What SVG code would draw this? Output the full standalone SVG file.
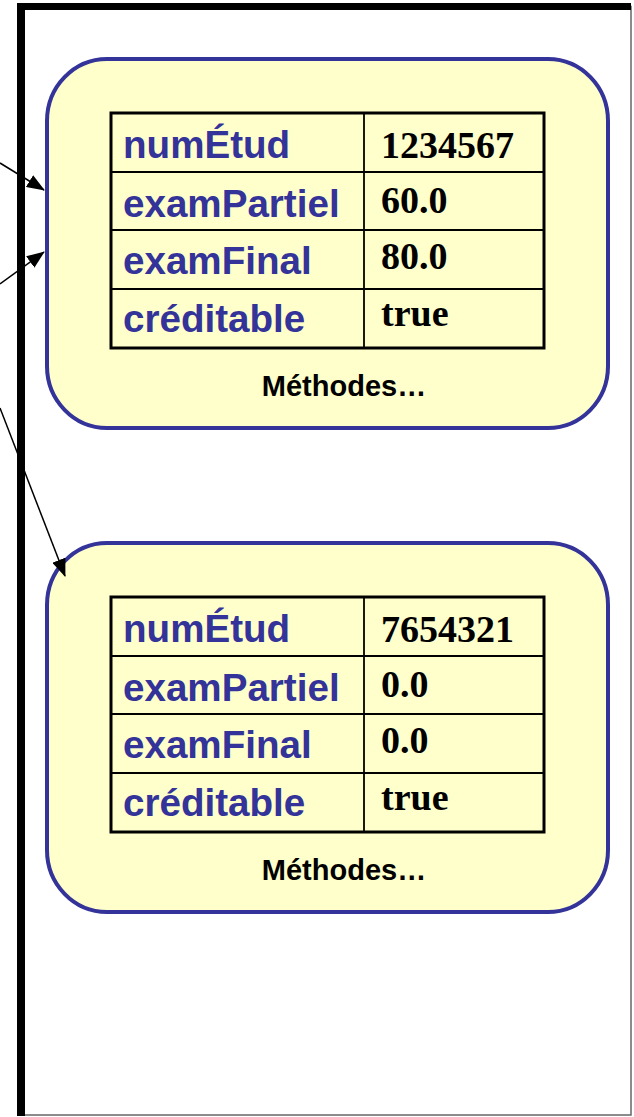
<svg xmlns="http://www.w3.org/2000/svg" width="634" height="1117" viewBox="0 0 634 1117">
  <defs>
    <marker id="arrow" markerWidth="18" markerHeight="14" refX="17" refY="7" orient="auto" markerUnits="userSpaceOnUse">
      <path d="M0,0 L18,7 L0,14 Z" fill="#000"/>
    </marker>
    <style>
      .obj { fill: #FFFFCC; stroke: #333399; stroke-width: 4; }
      .tbl { fill: none; stroke: #000; stroke-width: 3; }
      .grid { stroke: #000; stroke-width: 1.8; }
      .lbl { font-family: "Liberation Sans", Arial, sans-serif; font-weight: bold; font-size: 38.6px; fill: #333399; }
      .val { font-family: "Liberation Serif", "Times New Roman", serif; font-weight: bold; font-size: 38px; fill: #000; }
      .meth { font-family: "Liberation Sans", Arial, sans-serif; font-weight: bold; font-size: 29px; fill: #000; text-anchor: middle; }
      .conn { stroke: #000; stroke-width: 1.5; fill: none; marker-end: url(#arrow); }
    </style>
  </defs>

  <rect width="634" height="1117" fill="#fff"/>

  <!-- heap frame -->
  <g id="heap">
    <rect x="21" y="6.5" width="610" height="1108.5" fill="#fff" stroke="#666" stroke-width="1.5"/>
    <line x1="21" y1="3" x2="21" y2="1116" stroke="#000" stroke-width="8"/>
    <line x1="17" y1="6.5" x2="631" y2="6.5" stroke="#000" stroke-width="7"/>
  </g>

  <!-- first Etudiant object -->
  <g id="etudiant1">
    <rect class="obj" x="47" y="59" width="561" height="369" rx="60" ry="62"/>
    <rect class="tbl" x="111" y="113" width="433" height="235"/>
    <line class="grid" x1="364" y1="113" x2="364" y2="348"/>
    <line class="grid" x1="111" y1="172" x2="544" y2="172"/>
    <line class="grid" x1="111" y1="230" x2="544" y2="230"/>
    <line class="grid" x1="111" y1="289" x2="544" y2="289"/>
    <text class="lbl" x="123" y="158">numÉtud</text>
    <text class="lbl" x="123" y="217">examPartiel</text>
    <text class="lbl" x="123" y="274">examFinal</text>
    <text class="lbl" x="123" y="332">créditable</text>
    <text class="val" x="381" y="158">1234567</text>
    <text class="val" x="381" y="213">60.0</text>
    <text class="val" x="381" y="269">80.0</text>
    <text class="val" x="381" y="326">true</text>
    <text class="meth" x="344" y="396">Méthodes…</text>
  </g>

  <!-- second Etudiant object -->
  <g id="etudiant2">
    <rect class="obj" x="47" y="543" width="561" height="369" rx="60" ry="62"/>
    <rect class="tbl" x="111" y="597" width="433" height="235"/>
    <line class="grid" x1="364" y1="597" x2="364" y2="832"/>
    <line class="grid" x1="111" y1="656" x2="544" y2="656"/>
    <line class="grid" x1="111" y1="714" x2="544" y2="714"/>
    <line class="grid" x1="111" y1="773" x2="544" y2="773"/>
    <text class="lbl" x="123" y="642">numÉtud</text>
    <text class="lbl" x="123" y="701">examPartiel</text>
    <text class="lbl" x="123" y="758">examFinal</text>
    <text class="lbl" x="123" y="816">créditable</text>
    <text class="val" x="381" y="642">7654321</text>
    <text class="val" x="381" y="697">0.0</text>
    <text class="val" x="381" y="753">0.0</text>
    <text class="val" x="381" y="810">true</text>
    <text class="meth" x="344" y="880">Méthodes…</text>
  </g>

  <!-- references into the heap -->
  <g id="connectors">
    <line class="conn" x1="0" y1="163" x2="44" y2="190"/>
    <line class="conn" x1="0" y1="284" x2="44" y2="252"/>
    <line class="conn" x1="0" y1="408" x2="65" y2="576"/>
  </g>
</svg>
